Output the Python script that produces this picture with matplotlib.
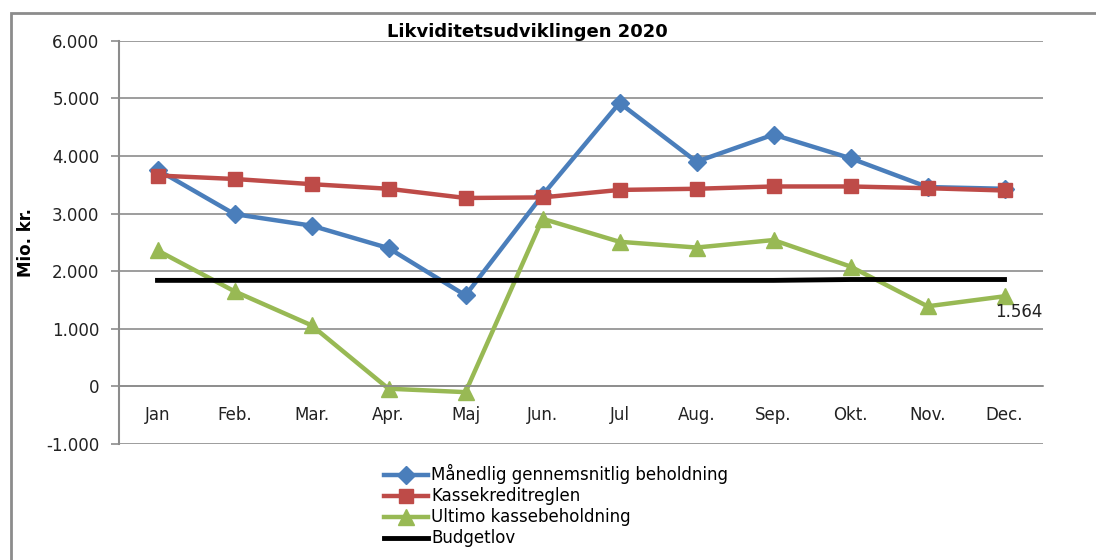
import matplotlib
matplotlib.use("Agg")
import matplotlib.pyplot as plt
from matplotlib.patches import Rectangle
from matplotlib.ticker import FuncFormatter, MultipleLocator

# data (mio. kr.)
months = ["Jan", "Feb.", "Mar.", "Apr.", "Maj", "Jun.", "Jul", "Aug.", "Sep.", "Okt.", "Nov.", "Dec."]
maanedlig = [3760, 2990, 2790, 2400, 1580, 3320, 4920, 3900, 4370, 3960, 3460, 3430]
kassekredit = [3660, 3600, 3510, 3430, 3270, 3280, 3410, 3430, 3470, 3470, 3440, 3400]
ultimo = [2360, 1650, 1060, -40, -100, 2910, 2510, 2410, 2540, 2080, 1390, 1564]
budgetlov = [1840, 1840, 1840, 1840, 1840, 1840, 1840, 1840, 1840, 1855, 1855, 1855]

blue = "#4A7EBB"
red = "#BE4B48"
green = "#98B954"
grid_c = "#8C8C8C"

plt.rcParams['font.family'] = ['DejaVu Sans']

fig = plt.figure(figsize=(10.96, 5.6), dpi=100)
fig.patches.append(Rectangle((11 / 1096, -0.1), 1.2, 1.1 - 13 / 560, transform=fig.transFigure,
                             fill=False, edgecolor=grid_c, linewidth=2))

ax = fig.add_axes([119 / 1096, 1 - 444 / 560, (1043 - 119) / 1096, (444 - 40.7) / 560])
x = list(range(len(months)))

ax.plot(x, maanedlig, color=blue, lw=3.2, marker="D", ms=9, label="Månedlig gennemsnitlig beholdning")
ax.plot(x, kassekredit, color=red, lw=3.2, marker="s", ms=10.5, label="Kassekreditreglen")
ax.plot(x, ultimo, color=green, lw=3.2, marker="^", ms=11, label="Ultimo kassebeholdning")
ax.plot(x, budgetlov, color="black", lw=3.5, label="Budgetlov")

ax.annotate("1.564", (x[-1], ultimo[-1]), xytext=(-7, -5), textcoords="offset points",
            ha="left", va="top", fontsize=12, color="#222222")

ax.set_xlim(-0.5, len(months) - 0.5)
ax.set_ylim(-1000, 6000)
ax.yaxis.set_major_locator(MultipleLocator(1000))
ax.yaxis.set_major_formatter(FuncFormatter(lambda v, p: f"{v:,.0f}".replace(",", ".")))
ax.grid(axis="y", color=grid_c, lw=1.2)
ax.set_axisbelow(True)

for s in ["top", "right"]:
    ax.spines[s].set_visible(False)
ax.spines["left"].set_color(grid_c)
ax.spines["left"].set_linewidth(1.5)
ax.spines["bottom"].set_position(("data", 0))
ax.spines["bottom"].set_color(grid_c)
ax.spines["bottom"].set_linewidth(1.2)

ax.set_xticks(x)
ax.set_xticklabels(months)
ax.tick_params(axis="x", length=0, pad=14, labelsize=12, labelcolor="#222222")
ax.tick_params(axis="y", length=6, width=1.2, color=grid_c, labelsize=12, labelcolor="#222222", pad=8)

ax.set_ylabel("Mio. kr.", fontsize=12, fontweight="bold", labelpad=8)

fig.text(527 / 1096, 1 - 32 / 560, "Likviditetsudviklingen 2020", ha="center", va="center",
         fontsize=13, fontweight="bold")

fig.legend(loc="upper left", bbox_to_anchor=(376 / 1096, 1 - 456 / 560), frameon=False,
           fontsize=12, handlelength=2.6, handletextpad=0.2, labelspacing=0.18,
           borderpad=0, numpoints=1)

fig.savefig("out.png", dpi=100)
